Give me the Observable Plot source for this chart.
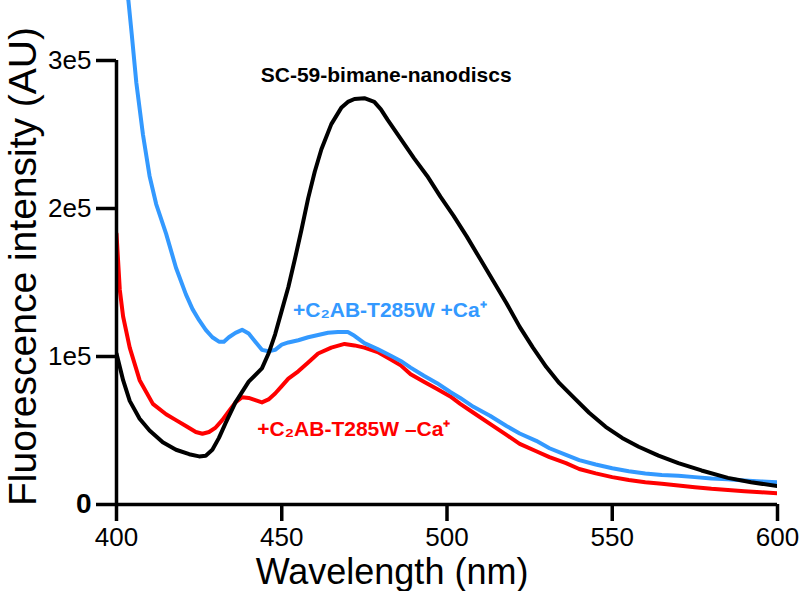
<!DOCTYPE html>
<html>
<head>
<meta charset="utf-8">
<script src="https://cdn.jsdelivr.net/npm/d3@7"></script>
<script src="https://cdn.jsdelivr.net/npm/@observablehq/plot@0.6"></script>
<style>
  html, body { margin: 0; padding: 0; background: #fff; }
  #chart svg { display: block; }
</style>
</head>
<body>
<div id="chart"></div>
<script>
// Fluorescence intensity in units of 1e5 AU
const blackWl = [400,402,404,407,410,414,418,422,425,427,429,431,433,436,440,444,446,448,450,452,454,456,458,460,462,465,468,470,472,475,478,480,482,486,490,494,498,502,506,510,514,518,522,526,530,534,538,543,548,553,558,564,570,577,585,592,600];
const blackVal = [1.02,0.84,0.70,0.58,0.50,0.42,0.37,0.34,0.325,0.33,0.37,0.45,0.55,0.69,0.83,0.92,1.02,1.15,1.31,1.47,1.66,1.86,2.07,2.25,2.40,2.57,2.68,2.72,2.74,2.745,2.72,2.67,2.60,2.47,2.34,2.22,2.08,1.95,1.81,1.66,1.51,1.36,1.20,1.06,0.93,0.82,0.73,0.62,0.525,0.45,0.39,0.33,0.28,0.23,0.18,0.15,0.125];

const redWl = [400,401,402,404,407,411,415,418,421,424,426,428,430,432,434,436,438,440,442,444,446,448,450,452,455,458,461,465,469,472,475,479,483,486,489,493,497,501,504,508,513,518,522,527,531,536,540,545,550,555,560,565,570,575,580,585,590,595,600];
const redVal = [1.83,1.45,1.27,1.06,0.84,0.68,0.61,0.57,0.53,0.49,0.478,0.49,0.52,0.57,0.63,0.69,0.725,0.72,0.705,0.69,0.71,0.75,0.80,0.85,0.90,0.96,1.02,1.06,1.085,1.075,1.06,1.03,0.98,0.94,0.88,0.83,0.78,0.73,0.68,0.62,0.545,0.47,0.41,0.36,0.32,0.28,0.24,0.21,0.185,0.165,0.15,0.14,0.128,0.117,0.106,0.098,0.09,0.083,0.076];

const blueWl = [401,403.6,404.6,406,408,410,412,415,418,421,423,425,427,429,431,432.5,434,436,438,440,442,444,446,448,450,452,455,458,461,464,467,470,472,475,479,483,486,489,493,497,501,504,508,513,518,522,527,531,536,540,545,550,555,560,565,570,575,580,585,590,595,600];
const blueVal = [3.75,3.405,3.18,2.85,2.50,2.22,2.03,1.83,1.60,1.42,1.32,1.245,1.18,1.13,1.10,1.10,1.13,1.16,1.18,1.155,1.10,1.045,1.035,1.045,1.08,1.095,1.11,1.13,1.145,1.16,1.165,1.165,1.14,1.09,1.05,1.005,0.97,0.925,0.87,0.82,0.76,0.72,0.66,0.60,0.53,0.48,0.43,0.38,0.335,0.30,0.27,0.245,0.225,0.21,0.20,0.195,0.185,0.175,0.17,0.162,0.156,0.151];

const xTicks = [400,450,500,550,600];
const yTicks = [1,2,3];
const yTickLabels = ["1e5","2e5","3e5"];

const labels = [
  {text: "SC-59-bimane-nanodiscs", wl: 481.6, v: 2.90, color: "#000000", anchor: "middle"},
  {text: "+C\u2082AB-T285W +Ca\u207A", wl: 453.4, v: 1.31, color: "#3399ff", anchor: "start"},
  {text: "+C\u2082AB-T285W \u2013Ca\u207A", wl: 442.6, v: 0.51, color: "#ff0000", anchor: "start"}
];

const toRows = (wl, val) => wl.map((w, i) => ({wl: w, v: val[i]}));
const black = toRows(blackWl, blackVal);
const red = toRows(redWl, redVal);
const blue = toRows(blueWl, blueVal);

const font = "Arial, 'Liberation Sans', Helvetica, sans-serif";

const chart = Plot.plot({
  width: 800,
  height: 591,
  marginLeft: 116,
  marginRight: 23,
  marginTop: 0,
  marginBottom: 87,
  style: {fontFamily: font, background: "#fff", color: "#000"},
  x: {domain: [400, 600]},
  y: {domain: [0, 504 / 148]},
  marks: [
    Plot.line(red, {x: "wl", y: "v", stroke: "#ff0000", strokeWidth: 4, clip: true}),
    Plot.line(blue, {x: "wl", y: "v", stroke: "#3399ff", strokeWidth: 4, clip: true}),
    Plot.line(black, {x: "wl", y: "v", stroke: "#000000", strokeWidth: 4, clip: true}),
    Plot.ruleX([400], {y1: 0, y2: 3, stroke: "#000", strokeWidth: 3.5}),
    Plot.ruleY([0], {x1: 400, x2: 600, stroke: "#000", strokeWidth: 3.5}),
    Plot.axisX({ticks: xTicks, tickSize: 17, strokeWidth: 3.5, tickPadding: 6, fontSize: 26, label: null, tickFormat: d => String(d)}),
    Plot.axisY({ticks: yTicks, tickSize: 20, strokeWidth: 3.5, tickPadding: 5, fontSize: 26, label: null, tickFormat: (d, i) => yTickLabels[i]}),
    Plot.axisY({ticks: [0], tickSize: 20, strokeWidth: 3.5, tickPadding: 5, fontSize: 28, fontWeight: "bold", label: null, tickFormat: () => "0"}),
    Plot.text(["Wavelength (nm)"], {frameAnchor: "bottom", dx: -55, dy: 68, fontSize: 36, lineAnchor: "middle", textAnchor: "middle", fill: "#000"}),
    Plot.text(["Fluorescence intensity (AU)"], {frameAnchor: "left", rotate: -90, dx: -93, dy: 14, fontSize: 39, lineAnchor: "middle", textAnchor: "middle", fill: "#000"}),
    Plot.text(labels, {x: "wl", y: "v", text: "text", fill: "color", textAnchor: "start", fontWeight: "bold", fontSize: 21, filter: d => d.anchor === "start"}),
    Plot.text(labels, {x: "wl", y: "v", text: "text", fill: "color", textAnchor: "middle", fontWeight: "bold", fontSize: 21, filter: d => d.anchor === "middle"})
  ]
});
document.getElementById("chart").appendChild(chart);
</script>
</body>
</html>
